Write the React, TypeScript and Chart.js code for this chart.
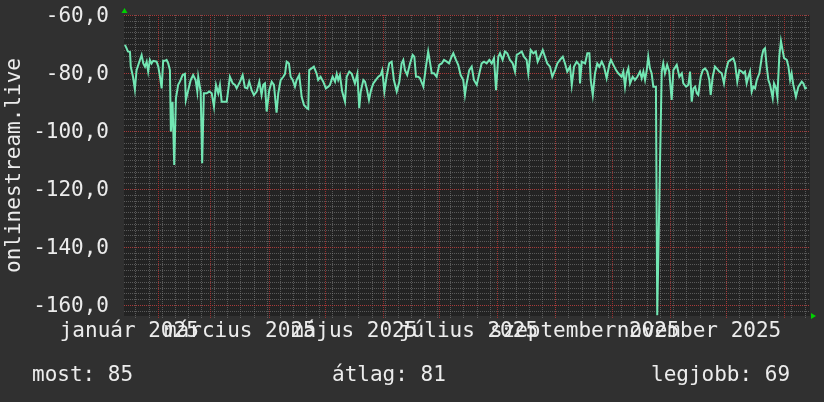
import React, { useEffect, useRef } from 'react';
import { Chart, registerables } from 'chart.js';

Chart.register(...registerables);

// Day of year 2025 (0 = 1 January 2025), fractional, and the measured value (dB-like, negative)
const daysJanMay = [
  13.4, 14.3, 15.0, 16.1, 16.5, 17.7, 18.7, 19.6, 21.4, 22.3, 23.2, 24.1, 25.0, 25.8, 26.7, 27.6, 28.5, 30.3, 31.2, 32.1,
  33.0, 33.8, 34.7, 35.6, 36.5, 37.4, 37.9, 38.8, 39.7, 40.6, 41.8, 42.7, 44.2, 45.4, 45.9, 47.2, 48.5, 49.8, 51.1, 52.0,
  52.5, 53.8, 54.6, 55.5, 57.0, 58.4, 59.7, 60.9, 62.0, 63.2, 64.1, 65.0, 66.8, 67.7, 69.4, 70.9, 72.1, 73.0, 74.8, 76.2,
  77.4, 78.7, 79.7, 81.0, 82.2, 83.7, 85.1, 86.3, 87.2, 88.1, 89.0, 90.4, 91.7, 92.9, 94.3, 95.2, 96.5, 97.9, 98.8, 99.7,
  100.9, 101.8, 102.9, 104.1, 105.0, 106.4, 107.7, 108.9, 110.4, 111.2, 111.7, 113.0, 114.2, 115.7, 116.5, 117.8, 119.2, 120.6, 121.9, 122.8,
  124.2, 125.5, 126.4, 127.2, 128.1, 129.3, 130.8, 131.7, 133.1, 134.4, 136.1, 137.4, 138.4,
];
const valuesJanMay = [
  -70.3, -71.5, -72.6, -72.8, -77.8, -81.3, -85.6, -79, -75.5, -73.8, -76.7, -77.8, -76.1, -79.5, -75.5, -76.7, -75.8, -76.1, -77.8, -81.3,
  -85.3, -75.8, -75.8, -75.5, -76.7, -79, -100.2, -89.9, -111.7, -88.7, -84.1, -83, -80.7, -80.3, -89.3, -85.9, -82.4, -80.7, -82.4, -86.4,
  -81.3, -86.4, -111.1, -87, -87, -86.4, -87, -91.6, -84.1, -87, -84.1, -89.9, -89.9, -89.9, -81.3, -83.6, -84.1, -85.3, -83, -80.7,
  -85, -85.3, -83, -85.9, -87.6, -86.4, -83, -87.6, -84.1, -83.6, -93.3, -85.9, -83, -84.1, -93.7, -87, -82.4, -81.3, -80.3, -76.1,
  -76.7, -81.3, -82.4, -84.7, -82.4, -80.7, -88.2, -91, -92.1, -92.4, -79, -78.4, -77.8, -80.3, -82.4, -81.3, -83, -85.3, -84.7, -84.1,
  -81.3, -83, -80.3, -82.4, -80.7, -86.4, -89.9, -81.3, -79.5, -80.3, -83.6, -80.3, -92.1,
];

const daysMaySep = [
  139.2, 140.6, 141.5, 142.4, 143.6, 144.7, 145.9, 147.3, 148.6, 149.8, 150.7, 151.8, 153.0, 154.4, 155.7, 156.9, 158.4, 159.8, 161.0, 161.9,
  162.8, 164.0, 165.5, 166.9, 167.8, 168.7, 169.9, 170.8, 172.6, 174.0, 175.2, 176.1, 177.1, 178.3, 179.7, 181.1, 182.4, 183.6, 185.1, 186.3,
  187.7, 188.6, 190.0, 191.2, 192.5, 193.9, 194.8, 195.7, 197.1, 198.4, 199.6, 201.1, 202.5, 203.7, 205.0, 206.4, 207.8, 209.1, 210.3, 211.4,
  212.6, 213.5, 214.9, 216.2, 217.4, 218.8, 220.3, 221.5, 222.4, 223.8, 225.1, 226.3, 227.7, 228.6, 229.9, 231.3, 232.6, 233.6, 234.8, 236.3,
  237.5, 238.7, 240.2, 241.4, 242.9, 244.1, 245.5, 247.0, 248.2, 249.4, 250.9, 251.8, 253.0, 254.4, 255.8,
];
const valuesMaySep = [
  -86.4, -82.4, -83, -85.3, -89.3, -85.9, -83.6, -82.4, -81.3, -80.7, -79, -86.4, -81.3, -76.7, -76.1, -82.4, -86.4, -83, -76.7, -75.5,
  -79, -80.7, -76.7, -73.8, -74.4, -81.3, -81.3, -81.8, -84.7, -77.8, -72.6, -76.1, -80.1, -80.1, -81.3, -77.2, -76.7, -75.5, -76.1, -76.7,
  -74.4, -73.2, -75.5, -77.2, -80.7, -82.4, -87.6, -83.6, -79, -77.8, -82.4, -84.1, -80.1, -76.7, -76.1, -76.7, -75.5, -76.7, -74.9, -85.9,
  -74.4, -73.2, -75.5, -72.6, -73.2, -75.5, -76.7, -79.5, -73.8, -73.2, -72.6, -74.4, -75.5, -80.1, -72.1, -73.2, -72.6, -76.1, -74.4, -72.1,
  -74.4, -76.7, -77.8, -81.3, -79, -76.7, -75.5, -74.4, -76.7, -79.5, -77.8, -84.1, -77.8, -76.1, -77.2,
];

const daysSepJan = [
  256.2, 257.1, 258.9, 260.1, 261.2, 261.9, 263.0, 264.2, 265.4, 266.5, 267.8, 269.0, 270.4, 271.8, 272.7, 274.0, 275.4, 276.6, 277.5, 278.4,
  279.3, 280.2, 281.1, 282.0, 282.9, 284.3, 285.5, 286.8, 288.2, 289.1, 290.0, 290.9, 291.8, 292.6, 293.5, 294.4, 295.3, 296.7, 297.4, 298.6,
  299.8, 300.6, 301.5, 302.7, 303.8, 305.1, 306.0, 307.8, 309.2, 310.5, 311.3, 312.8, 314.0, 314.9, 315.8, 316.7, 317.6, 318.5, 319.3, 320.6,
  321.7, 322.9, 324.1, 325.2, 325.9, 327.0, 328.2, 329.1, 330.5, 331.8, 333.0, 334.1, 335.3, 336.6, 338.0, 338.9, 340.1, 341.2, 342.5, 343.3,
  344.2, 345.1, 346.0, 346.9, 347.8, 348.7, 349.6, 350.5, 351.9, 353.2, 354.0, 354.9, 355.8, 356.7, 357.6, 359.0, 359.7, 360.8, 361.5, 362.5,
  363.4, 364.4, 365.1, 366.5, 367.4, 368.3, 369.1, 370.0, 371.4, 372.7, 374.5, 375.4, 376.3, 377.2,
];
const valuesSepJan = [
  -83.6, -76.1, -76.7, -73.2, -73.2, -82.4, -87.6, -80.1, -76.7, -77.8, -76.1, -77.8, -81.8, -77.2, -75.5, -77.2, -79, -80.1, -80.7, -81.3,
  -79.5, -84.7, -80.1, -78.4, -83.6, -81.3, -82.4, -81.3, -79.5, -81.8, -79.5, -82.4, -79, -74.4, -78.4, -80.1, -84.7, -84.7, -163.5, -120.3,
  -79.5, -76.7, -80.1, -77.2, -79.5, -89.3, -79, -77.2, -81.3, -80.1, -83.6, -84.7, -84.1, -79.5, -89.9, -85.3, -84.7, -87, -87.6, -81.3,
  -79, -78.4, -79.5, -82.4, -87.6, -81.3, -77.8, -78.4, -79.5, -80.1, -83.6, -79, -76.1, -75.5, -74.9, -76.7, -83, -79, -79.5, -80.1,
  -79.5, -83.6, -81.3, -79.5, -86.4, -84.7, -85.3, -82.4, -80.1, -74.4, -72.1, -71.5, -77.8, -82.4, -84.1, -88.7, -83.6, -85.3, -88.2, -74.4,
  -69, -72.6, -74.9, -75.5, -77.8, -82.4, -80.1, -84.1, -88.2, -84.7, -83, -83.6, -85.3, -85,
];

// Axis definitions
const xMin = 12.9;
const xMax = 378.9;
const yMin = -163.8;
const yMax = -60;
const yLabelTicks = [-160, -140, -120, -100, -80, -60];
const yMinorStep = 2;
const monthStarts = [31, 59, 90, 120, 151, 181, 212, 243, 273, 304, 334, 365];
const firstMonday = 5;
const monthLabelDays = [15.7, 74.7, 135.7, 196.7, 258.7, 319.7];
const monthLabels = ['január 2025', 'március 2025', 'május 2025', 'július 2025', 'szeptember 2025', 'november 2025'];
const yTitle = 'onlinestream.live';
const footer = [
  { label: 'most', value: 85 },
  { label: 'átlag', value: 81 },
  { label: 'legjobb', value: 69 },
];

const FONT_FAMILY = "'DejaVu Sans Mono', monospace";
const TEXT_COLOR = '#ececec';
const OUTER_BG = '#303030';
const PLOT_BG = '#232323';
const LINE_COLOR = '#72e6b3';
const MINOR_GRID = 'rgba(135,135,135,0.55)';
const MAJOR_GRID = 'rgba(185,50,50,0.8)';

function range(start: number, end: number, step: number) {
  const out: number[] = [];
  for (let v = start; v <= end + 1e-9; v += step) out.push(v);
  return out;
}

const plotBackground = {
  id: 'plotBackground',
  beforeDraw(chart: any) {
    const { ctx, chartArea } = chart;
    ctx.save();
    ctx.fillStyle = PLOT_BG;
    ctx.fillRect(chartArea.left, chartArea.top, chartArea.right - chartArea.left, chartArea.bottom - chartArea.top);
    ctx.restore();
  },
};

// rrdtool-style dotted grid, positioned through the chart's own scales
const rrdGrid = {
  id: 'rrdGrid',
  beforeDatasetsDraw(chart: any) {
    const { ctx, chartArea: a, scales } = chart;
    const xs = scales.x;
    const ys = scales.y;
    const mondays = range(firstMonday, xMax, 7).filter((d) => d >= xMin);
    const minorY = range(-162, yMax, yMinorStep);
    ctx.save();
    ctx.lineWidth = 1;
    ctx.setLineDash([1, 1]);
    const vline = (v: number, color: string, ext: number) => {
      const px = Math.round(xs.getPixelForValue(v)) + 0.5;
      if (px < a.left || px > a.right) return;
      ctx.strokeStyle = color;
      ctx.beginPath();
      ctx.moveTo(px, a.top);
      ctx.lineTo(px, a.bottom + ext);
      ctx.stroke();
    };
    const hline = (v: number, color: string) => {
      const py = Math.round(ys.getPixelForValue(v)) + 0.5;
      if (py < a.top - 1 || py > a.bottom) return;
      ctx.strokeStyle = color;
      ctx.beginPath();
      ctx.moveTo(a.left, py);
      ctx.lineTo(a.right, py);
      ctx.stroke();
    };
    minorY.forEach((v) => hline(v, MINOR_GRID));
    mondays.forEach((d) => vline(d, MINOR_GRID, 2));
    yLabelTicks.forEach((v) => hline(v, MAJOR_GRID));
    monthStarts.forEach((d) => vline(d, MAJOR_GRID, 3));
    ctx.restore();
  },
};

const axisArrows = {
  id: 'axisArrows',
  afterDraw(chart: any) {
    const { ctx, chartArea: a } = chart;
    ctx.save();
    ctx.fillStyle = '#00d000';
    ctx.beginPath();
    ctx.moveTo(a.left - 2.5, a.top - 2);
    ctx.lineTo(a.left + 3.5, a.top - 2);
    ctx.lineTo(a.left + 0.5, a.top - 7);
    ctx.closePath();
    ctx.fill();
    ctx.beginPath();
    ctx.moveTo(a.right + 1, a.bottom - 3);
    ctx.lineTo(a.right + 1, a.bottom + 3);
    ctx.lineTo(a.right + 6, a.bottom);
    ctx.closePath();
    ctx.fill();
    ctx.restore();
  },
};

export default function App() {
  const canvasRef = useRef<HTMLCanvasElement | null>(null);

  useEffect(() => {
    document.body.style.margin = '0';
    document.body.style.background = OUTER_BG;
    const canvas = canvasRef.current;
    if (!canvas) return;

    const days = [...daysJanMay, ...daysMaySep, ...daysSepJan];
    const values = [...valuesJanMay, ...valuesMaySep, ...valuesSepJan];
    const points = days.map((d, i) => ({ x: d, y: values[i] }));

    const font = { family: FONT_FAMILY, size: 21 };

    const chart = new Chart(canvas, {
      type: 'line',
      data: {
        datasets: [
          {
            data: points,
            borderColor: LINE_COLOR,
            borderWidth: 2,
            pointRadius: 0,
            tension: 0,
            fill: false,
            xAxisID: 'x',
            yAxisID: 'y',
          },
        ],
      },
      options: {
        animation: false,
        responsive: false,
        maintainAspectRatio: false,
        layout: { padding: { top: 15, right: 14, left: 0, bottom: 0 } },
        plugins: { legend: { display: false }, tooltip: { enabled: false } },
        scales: {
          x: {
            type: 'linear',
            position: 'bottom',
            min: xMin,
            max: xMax,
            afterBuildTicks: (s: any) => {
              s.ticks = monthLabelDays.map((v) => ({ value: v }));
            },
            afterFit: (s: any) => {
              s.height = 86;
              s.paddingLeft = 0;
              s.paddingRight = 0;
            },
            ticks: {
              autoSkip: false,
              maxRotation: 0,
              minRotation: 0,
              padding: 3,
              color: TEXT_COLOR,
              font,
              callback: (_v: any, i: number) => monthLabels[i],
            },
            grid: { display: false, drawTicks: false },
            border: { display: false },
          },
          y: {
            type: 'linear',
            position: 'left',
            min: yMin,
            max: yMax,
            afterBuildTicks: (s: any) => {
              s.ticks = yLabelTicks.map((v) => ({ value: v }));
            },
            afterFit: (s: any) => {
              s.width = 124;
              s.paddingTop = 0;
              s.paddingBottom = 0;
            },
            ticks: {
              padding: 15,
              labelOffset: 2,
              color: TEXT_COLOR,
              font,
              callback: (v: any) => Number(v).toFixed(1).replace('.', ','),
            },
            grid: { display: false, drawTicks: false },
            border: { display: false },
            title: {
              display: true,
              text: yTitle,
              color: TEXT_COLOR,
              font,
              padding: { top: 2, bottom: 0 },
            },
          },
        },
      },
      plugins: [plotBackground, rrdGrid, axisArrows],
    } as any);

    return () => chart.destroy();
  }, []);

  const footerStyle = (left: number): React.CSSProperties => ({
    position: 'absolute',
    left,
    top: 364,
    fontFamily: FONT_FAMILY,
    fontSize: 21,
    lineHeight: '21px',
    color: TEXT_COLOR,
    whiteSpace: 'pre',
  });

  return (
    <div style={{ position: 'relative', width: 824, height: 402, background: OUTER_BG, overflow: 'hidden' }}>
      <canvas ref={canvasRef} width={824} height={402} style={{ display: 'block', width: 824, height: 402 }} />
      <div style={footerStyle(32)}>{`${footer[0].label}: ${footer[0].value}`}</div>
      <div style={footerStyle(332)}>{`${footer[1].label}: ${footer[1].value}`}</div>
      <div style={footerStyle(651)}>{`${footer[2].label}: ${footer[2].value}`}</div>
    </div>
  );
}
